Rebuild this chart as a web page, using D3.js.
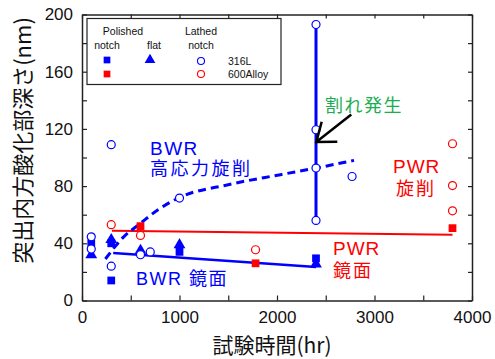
<!DOCTYPE html>
<html>
<head>
<meta charset="utf-8">
<script src="https://cdn.jsdelivr.net/npm/d3@7"></script>
<style>
  body { margin: 0; background: #fff; }
  svg text { font-family: "Liberation Sans", Arial, "Noto Sans CJK JP", sans-serif; }
  .jp { font-family: "Noto Sans CJK JP", "Liberation Sans", sans-serif; }
</style>
</head>
<body>
<svg id="chart" width="495" height="359"></svg>
<script>
// values: [hours, depth nm]
var circles316 = [[95,44.5],[95,36],[300,109],[300,24],[600,32],[700,34],[1000,71.6],[2400,193],[2400,119.4],[2400,92.6],[2400,56],[2770,86.7]]
var squares316 = [[95,40],[300,40],[300,14],[1000,34],[2400,29.5]]
var triangles316 = [[95,32],[300,42.5],[600,35],[1000,39],[2400,25.5]]
var circles600 = [[300,53],[600,45.5],[1780,35.5],[3800,109.6],[3800,80.4],[3800,62.7]]
var squares600 = [[600,52],[1780,26],[3800,50.6]]

var redFit = [[307,48.7],[3800,45.9]]
var blueFit = [[320,33.3],[2400,23.5]]
var crackLine = [[2400,56],[2400,193]]
var bwrCurve = [[240,29],[420,44],[600,54],[780,63.5],[1000,72],[1500,81],[2035,88],[2400,92.6],[2790,98]]
var arrowPts = [[2762,130],[2403,110.8]]

var xTicks = [0,1000,2000,3000,4000]
var yTicks = [0,40,80,120,160,200]

var blue = '#0000ff', red = '#ff0000', green = '#1aae52'

var svg = d3.select('#chart'),
  margin = {top: 14.5, right: 23, bottom: 58.5, left: 82},
  width = +svg.attr('width') - margin.left - margin.right,
  height = +svg.attr('height') - margin.top - margin.bottom

var x = d3.scaleLinear().domain([0, 4000]).range([0, width]),
  y = d3.scaleLinear().domain([0, 200]).range([height, 0])

var g = svg.append('g')
  .attr('transform', 'translate(' + margin.left + ',' + margin.top + ')')

// axes with inner ticks
function styleAxis(sel) {
  sel.selectAll('path').attr('stroke', '#222').attr('stroke-width', 1.5)
  sel.selectAll('line').attr('stroke', '#222').attr('stroke-width', 1.2)
  sel.selectAll('text').attr('font-size', 17).attr('fill', '#111')
}
var minorX = d3.range(0, 4001, 500), minorY = d3.range(0, 201, 20)

g.append('g').attr('transform', 'translate(0,' + height + ')')
  .call(d3.axisBottom(x).tickValues(minorX).tickSizeInner(-5).tickSizeOuter(0).tickPadding(10)
    .tickFormat(function (d) { return xTicks.indexOf(d) >= 0 ? d : '' }))
  .call(styleAxis)
g.append('g')
  .call(d3.axisTop(x).tickValues(minorX).tickSizeInner(-4).tickSizeOuter(0).tickFormat(''))
  .call(styleAxis)
g.append('g')
  .call(d3.axisLeft(y).tickValues(minorY).tickSizeInner(-5).tickSizeOuter(0).tickPadding(9)
    .tickFormat(function (d) { return yTicks.indexOf(d) >= 0 ? d : '' }))
  .call(styleAxis)
g.append('g').attr('transform', 'translate(' + width + ',0)')
  .call(d3.axisRight(y).tickValues(minorY).tickSizeInner(-4).tickSizeOuter(0).tickFormat(''))
  .call(styleAxis)

// axis titles
svg.append('text').attr('class', 'jp')
  .attr('transform', 'translate(31,' + (margin.top + 126) + ') rotate(-90)')
  .attr('text-anchor', 'middle').attr('font-size', 22).attr('fill', '#111')
  .text('突出内方酸化部深さ(nm)')
svg.append('text').attr('class', 'jp')
  .attr('x', margin.left + width / 2 - 5).attr('y', 353)
  .attr('text-anchor', 'middle').attr('font-size', 21).attr('fill', '#111')
  .text('試験時間(hr)')

// lines
var line = d3.line().x(function (d) { return x(d[0]) }).y(function (d) { return y(d[1]) })
g.append('path').datum(redFit).attr('d', line).attr('fill', 'none').attr('stroke', red).attr('stroke-width', 2)
g.append('path').datum(blueFit).attr('d', line).attr('fill', 'none').attr('stroke', blue).attr('stroke-width', 2.5)
g.append('path').datum(crackLine).attr('d', line).attr('fill', 'none').attr('stroke', blue).attr('stroke-width', 3)
g.append('path').datum(bwrCurve).attr('d', line.curve(d3.curveMonotoneX)).attr('fill', 'none')
  .attr('stroke', blue).attr('stroke-width', 3).attr('stroke-dasharray', '8,5')
line.curve(d3.curveLinear)

// markers
var sym = d3.symbol()
function drawSymbols(data, type, size, color) {
  g.selectAll(null).data(data).enter().append('path')
    .attr('transform', function (d) { return 'translate(' + x(d[0]) + ',' + y(d[1]) + ')' })
    .attr('d', sym.type(type).size(size)())
    .attr('fill', color)
}
drawSymbols(squares316, d3.symbolSquare, 60, blue)
drawSymbols(triangles316, d3.symbolTriangle, 60, blue)
drawSymbols(squares600, d3.symbolSquare, 60, red)

function drawCircles(data, color) {
  g.selectAll(null).data(data).enter().append('circle')
    .attr('cx', function (d) { return x(d[0]) })
    .attr('cy', function (d) { return y(d[1]) })
    .attr('r', 4).attr('fill', '#fff').attr('stroke', color).attr('stroke-width', 1.2)
}
drawCircles(circles316, blue)
drawCircles(circles600, red)

// arrow
var ax0 = x(arrowPts[0][0]), ay0 = y(arrowPts[0][1]), ax1 = x(arrowPts[1][0]), ay1 = y(arrowPts[1][1])
var ang = Math.atan2(ay0 - ay1, ax0 - ax1), hl = 21, spread = 37 * Math.PI / 180
g.append('path')
  .attr('d', 'M' + ax0 + ',' + ay0 + 'L' + ax1 + ',' + ay1 +
    'M' + (ax1 + hl * Math.cos(ang - spread)) + ',' + (ay1 + hl * Math.sin(ang - spread)) +
    'L' + ax1 + ',' + ay1 +
    'L' + (ax1 + hl * Math.cos(ang + spread)) + ',' + (ay1 + hl * Math.sin(ang + spread)))
  .attr('fill', 'none').attr('stroke', '#000').attr('stroke-width', 2.5)

// annotations
function label(txt, px, py, color, size, spacing) {
  svg.append('text').attr('x', px).attr('y', py)
    .attr('font-size', size).attr('fill', color)
    .attr('letter-spacing', spacing || 0).text(txt)
}
label('割れ発生', 325, 112, green, 18, 1.5)
label('BWR', 150, 155, blue, 19, 1.5)
label('高応力旋削', 150, 175, blue, 18, 2.5)
label('BWR 鏡面', 136, 285, blue, 18, 1.5)
label('PWR', 333, 255, red, 19, 1)
label('鏡面', 333, 277, red, 18, 2)
label('PWR', 393, 173, red, 19, 1)
label('旋削', 396, 195, red, 18, 2)

// legend
var lg = svg.append('g')
lg.append('rect').attr('x', 87).attr('y', 18.5).attr('width', 194).attr('height', 66)
  .attr('fill', '#fff').attr('stroke', '#222').attr('stroke-width', 1.2)
var legendHeads = [['Polished', 123, 35], ['notch', 107, 49], ['flat', 154, 49], ['Lathed', 201, 35], ['notch', 201, 49]]
legendHeads.forEach(function (h) {
  lg.append('text').attr('x', h[1]).attr('y', h[2]).attr('text-anchor', 'middle')
    .attr('font-size', 10.5).attr('fill', '#111').text(h[0])
})
lg.append('path').attr('transform', 'translate(107,60)').attr('d', sym.type(d3.symbolSquare).size(45)()).attr('fill', blue)
lg.append('path').attr('transform', 'translate(150,60)').attr('d', sym.type(d3.symbolTriangle).size(50)()).attr('fill', blue)
lg.append('circle').attr('cx', 201).attr('cy', 61).attr('r', 3.5).attr('fill', '#fff').attr('stroke', blue).attr('stroke-width', 1.1)
lg.append('path').attr('transform', 'translate(107,74)').attr('d', sym.type(d3.symbolSquare).size(45)()).attr('fill', red)
lg.append('circle').attr('cx', 201).attr('cy', 74).attr('r', 3.5).attr('fill', '#fff').attr('stroke', red).attr('stroke-width', 1.1)
lg.append('text').attr('x', 228).attr('y', 64.5).attr('font-size', 10.5).attr('fill', '#111').text('316L')
lg.append('text').attr('x', 228).attr('y', 78).attr('font-size', 10.5).attr('fill', '#111').text('600Alloy')
</script>
</body>
</html>
